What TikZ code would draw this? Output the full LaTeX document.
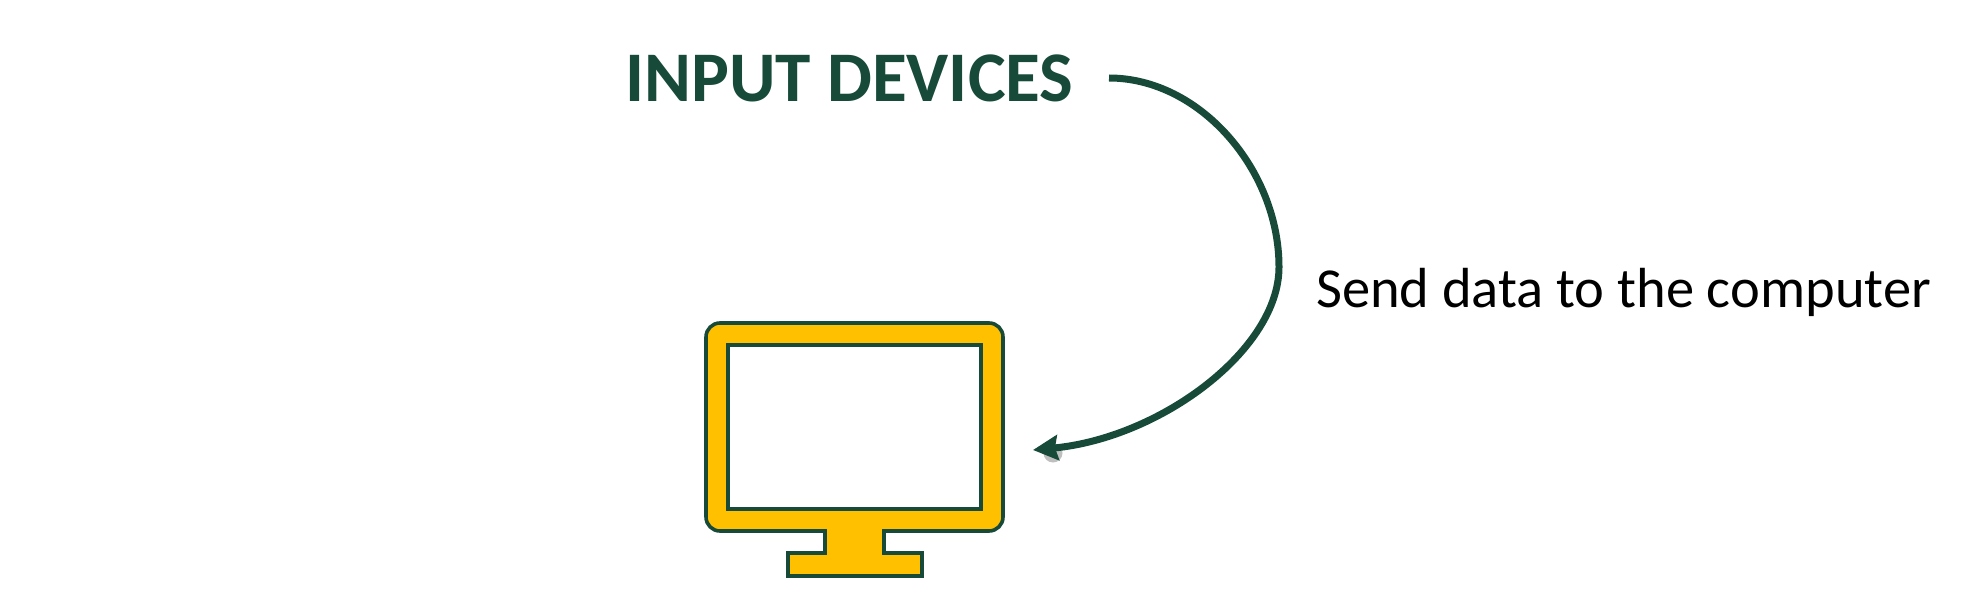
\documentclass[tikz,border=0pt]{standalone}
\usepackage{fontspec}
\setmainfont{Carlito}
\usetikzlibrary{arrows.meta}
\definecolor{darkgreen}{HTML}{174A38}
\definecolor{screenyellow}{HTML}{FFC000}
\begin{document}
\begin{tikzpicture}[x=1pt,y=-1pt]

	\tikzstyle{heading}=[text=darkgreen,inner sep=0mm,anchor=center,
		font=\fontsize{71.2}{80}\selectfont\bfseries]
	\tikzstyle{caption}=[text=black,inner sep=0mm,anchor=center,
		font=\fontsize{56.5}{70}\selectfont]
	\tikzstyle{frame}=[draw=darkgreen,line width=3.6pt,fill=screenyellow]
	\tikzstyle{screen}=[rectangle,draw=darkgreen,line width=3.6pt,fill=white,
		minimum width=253pt,minimum height=164pt,inner sep=0mm]
	\tikzstyle{arrow}=[-{Stealth[length=25pt,width=25pt,inset=3pt]},
		draw=darkgreen,line width=7pt]

	\useasboundingbox (0,0) rectangle (1980,596);

	\node[heading]	(devices)	at (849.5,78.5)	{INPUT DEVICES};
	\node[caption]	(send)	at (1623.5,292)	{Send data to the computer};

	% monitor outline with its stand
	\draw[frame]	(720,323) -- (989,323) arc[start angle=-90,end angle=0,radius=14]
		-- (1003,517) arc[start angle=0,end angle=90,radius=14]
		-- (884,531) -- (884,553) -- (922,553) -- (922,576) -- (788,576)
		-- (788,553) -- (825,553) -- (825,531) -- (720,531)
		arc[start angle=90,end angle=180,radius=14]
		-- (706,337) arc[start angle=180,end angle=270,radius=14] -- cycle;
	\node[screen]	(monitor)	at (854.5,427)	{};

	\coordinate	(start)	at (1109,78);
	\coordinate	(bend)	at (1279,267);
	\coordinate	(tip)	at (1033,450);

	\fill[gray!50]	(1053,453) circle (9.5pt);
	\draw[arrow]	(start) .. controls (1200,78) and (1279,170) .. (bend)
		.. controls (1279,350) and (1160,438) .. (tip);

\end{tikzpicture}
\end{document}
